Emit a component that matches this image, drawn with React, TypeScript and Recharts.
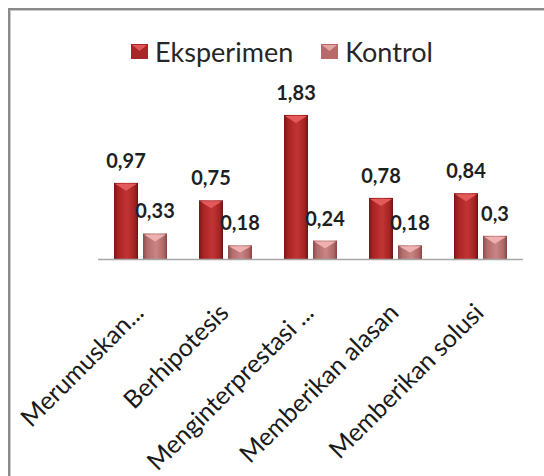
import { Bar, BarChart, LabelList, Legend, XAxis, YAxis } from "recharts";

const categories = [
  "Merumuskan...",
  "Berhipotesis",
  "Menginterprestasi ...",
  "Memberikan alasan",
  "Memberikan solusi",
];
const eksperimenValues = [0.97, 0.75, 1.83, 0.78, 0.84];
const kontrolValues = [0.33, 0.18, 0.24, 0.18, 0.3];
const seriesNames = ["Eksperimen", "Kontrol"];

const chartData = categories.map((name, i) => ({
  name,
  eksperimen: eksperimenValues[i],
  kontrol: kontrolValues[i],
}));

const FONT = "Lato, 'Open Sans', sans-serif";

const formatValue = (v: unknown) => String(v).replace(".", ",");

const BevelBar = (props: any) => {
  const { x, y, width, height, fill, bevel } = props;
  if (!height || height <= 0) return null;
  const depth = Math.min(8, height / 2);
  return (
    <g>
      <rect x={x} y={y} width={width} height={height} fill={fill} />
      <polygon
        points={`${x + 1},${y + 1} ${x + width - 1},${y + 1} ${x + width / 2},${y + depth}`}
        fill={bevel}
      />
    </g>
  );
};

const AxisTick = (props: any) => {
  const { x, y, payload } = props;
  const ax = x - 8;
  const ay = y + 42;
  return (
    <text
      x={ax}
      y={ay}
      dy="0.72em"
      transform={`rotate(-45 ${ax} ${ay})`}
      textAnchor="end"
      fontFamily={FONT}
      fontSize={25}
      fill="#1a1a1a"
    >
      {payload.value}
    </text>
  );
};

const LegendContent = () => (
  <div
    style={{
      display: "flex",
      justifyContent: "center",
      alignItems: "center",
      gap: 28,
      height: 28,
      fontFamily: FONT,
      fontSize: 27,
      color: "#262626",
      paddingLeft: 20,
    }}
  >
    {seriesNames.map((name, i) => (
      <span key={name} style={{ display: "flex", alignItems: "center" }}>
        <svg width={17} height={15} style={{ marginRight: 7 }}>
          <rect x={0} y={0} width={17} height={15} fill={i === 0 ? "#a82626" : "#b86a6a"} />
          <polygon points="1,1 16,1 8.5,7" fill={i === 0 ? "#e05555" : "#e4a4a4"} />
        </svg>
        <span>{name}</span>
      </span>
    ))}
  </div>
);

export default function App() {
  return (
    <div
      style={{
        position: "absolute",
        left: 0,
        top: 0,
        width: 544,
        height: 476,
        overflow: "hidden",
        background: "#fff",
      }}
    >
      <div
        style={{
          position: "absolute",
          left: 8,
          top: 8,
          width: 600,
          height: 600,
          border: "2px solid #8a8a8a",
          boxShadow: "inset 1px 1px 0 #c8c8c8",
        }}
      />
      <BarChart
        width={544}
        height={476}
        data={chartData}
        margin={{ top: 73.5, right: 21, bottom: 0, left: 98 }}
        barCategoryGap={16}
        barGap={5}
      >
        <defs>
          <linearGradient id="gradE" x1="0" y1="0" x2="1" y2="0">
            <stop offset="0%" stopColor="#7c1616" />
            <stop offset="18%" stopColor="#a82424" />
            <stop offset="55%" stopColor="#c23434" />
            <stop offset="85%" stopColor="#a52424" />
            <stop offset="100%" stopColor="#6e1414" />
          </linearGradient>
          <linearGradient id="gradK" x1="0" y1="0" x2="1" y2="0">
            <stop offset="0%" stopColor="#8e4c4c" />
            <stop offset="18%" stopColor="#b46c6c" />
            <stop offset="55%" stopColor="#c98585" />
            <stop offset="85%" stopColor="#b06868" />
            <stop offset="100%" stopColor="#864646" />
          </linearGradient>
        </defs>
        <Legend
          verticalAlign="top"
          content={<LegendContent />}
          wrapperStyle={{ top: 37, left: 0, width: 544, height: 28 }}
        />
        <XAxis
          dataKey="name"
          height={216.5}
          interval={0}
          tickLine={false}
          tickSize={0}
          tickMargin={0}
          axisLine={{ stroke: "#a6a6a6", strokeWidth: 1.5 }}
          tick={<AxisTick />}
        />
        <YAxis hide domain={[0, 2]} />
        <Bar
          dataKey="eksperimen"
          name={seriesNames[0]}
          fill="url(#gradE)"
          isAnimationActive={false}
          shape={(p: any) => <BevelBar {...p} bevel="#e25a5a" />}
        >
          <LabelList
            dataKey="eksperimen"
            position="top"
            offset={15}
            formatter={formatValue}
            style={{ fontFamily: FONT, fontSize: 20, fontWeight: 700, fill: "#1f1f1f" }}
          />
        </Bar>
        <Bar
          dataKey="kontrol"
          name={seriesNames[1]}
          fill="url(#gradK)"
          isAnimationActive={false}
          shape={(p: any) => <BevelBar {...p} bevel="#eeb0b0" />}
        >
          <LabelList
            dataKey="kontrol"
            position="top"
            offset={15}
            formatter={formatValue}
            style={{ fontFamily: FONT, fontSize: 20, fontWeight: 700, fill: "#1f1f1f" }}
          />
        </Bar>
      </BarChart>
    </div>
  );
}
